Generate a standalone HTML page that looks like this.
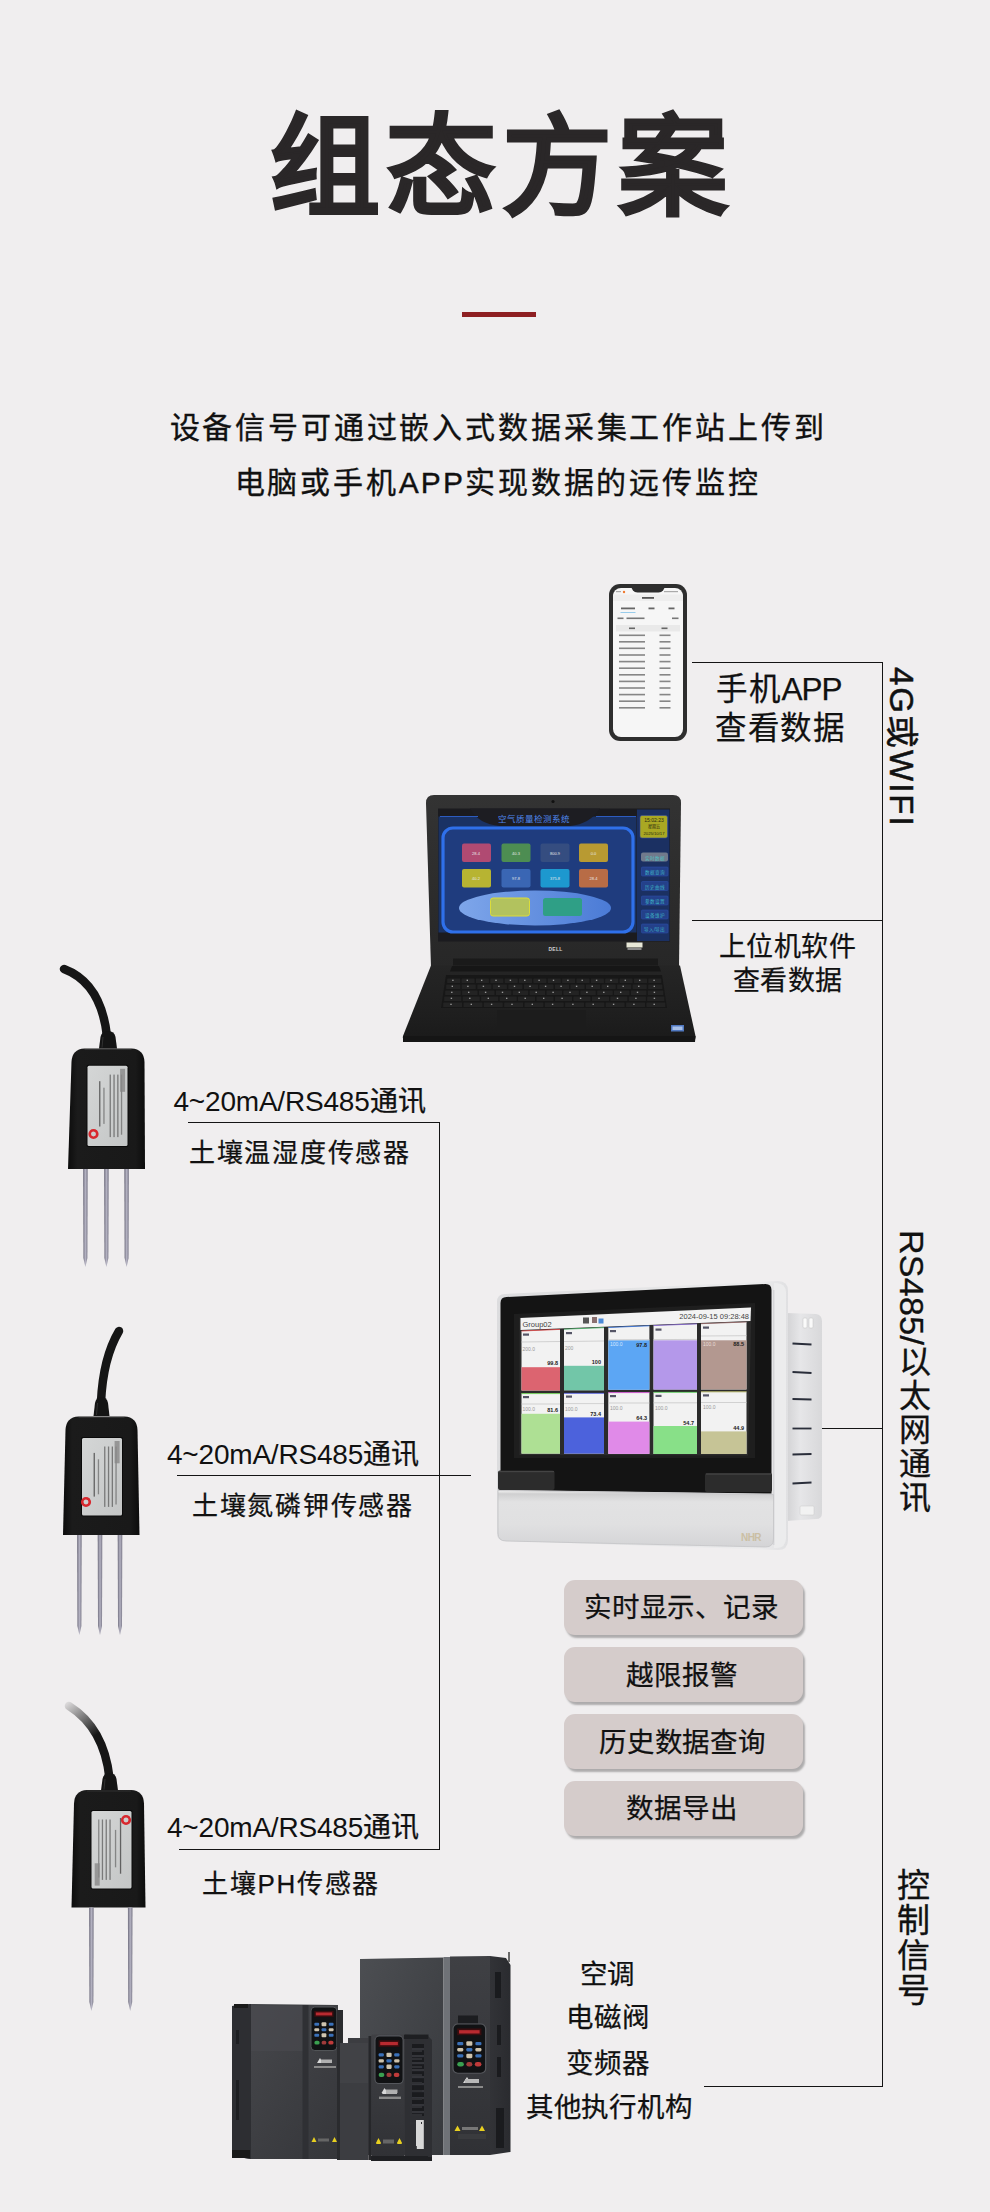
<!DOCTYPE html>
<html lang="zh-CN">
<head>
<meta charset="utf-8">
<style>
html,body{margin:0;padding:0;}
body{width:990px;height:2212px;position:relative;overflow:hidden;background:#f0eeef;font-family:"Liberation Sans",sans-serif;color:#111;}
.t{position:absolute;white-space:nowrap;line-height:1;-webkit-text-stroke:0.25px #111;}
.ln{position:absolute;background:#141414;}
.btn{position:absolute;left:564px;width:239px;height:55px;border-radius:11px;background:#d5cccb;box-shadow:2px 3px 2px rgba(0,0,0,0.28);}
.vt{position:absolute;white-space:nowrap;line-height:1;}
</style>
</head>
<body>
<!-- title -->
<div class="t" id="title" style="left:269.5px;top:112.5px;font-size:110px;font-weight:700;letter-spacing:6.3px;color:#2a2728;-webkit-text-stroke:1.6px #2a2728;">组态方案</div>
<div style="position:absolute;left:462px;top:312px;width:74px;height:5px;background:#8e1f22;"></div>
<div class="t" id="sub1" style="left:169.5px;top:412.5px;font-size:30px;letter-spacing:2.85px;-webkit-text-stroke:0.35px #111;">设备信号可通过嵌入式数据采集工作站上传到</div>
<div class="t" id="sub2" style="left:234.5px;top:468px;font-size:30px;letter-spacing:2.85px;-webkit-text-stroke:0.35px #111;">电脑或手机<span style="letter-spacing:2.1px">APP</span>实现数据的远传监控</div>

<svg id="art" width="990" height="2212" viewBox="0 0 990 2212" style="position:absolute;left:0;top:0;">
<defs>
<linearGradient id="lidG" x1="0" y1="0" x2="0" y2="1"><stop offset="0" stop-color="#333333"/><stop offset="1" stop-color="#272727"/></linearGradient>
<linearGradient id="baseG" x1="0" y1="0" x2="0" y2="1"><stop offset="0" stop-color="#252525"/><stop offset="0.6" stop-color="#1f1f1f"/><stop offset="1" stop-color="#1a1a1a"/></linearGradient>
<linearGradient id="ellG" x1="0" y1="0" x2="1" y2="0"><stop offset="0" stop-color="#7ea6ea"/><stop offset="1" stop-color="#4b7bd6"/></linearGradient>
</defs>
<g id="laptop">
<!-- lid -->
<path d="M431,967.5 L426,803 Q426,795 434,795 L673,795 Q681,795 681,803 L679,967.5 Z" fill="url(#lidG)"/>
<circle cx="553" cy="801.5" r="1.6" fill="#111"/>
<!-- screen -->
<rect x="438" y="808.5" width="232" height="133" fill="#1b1b1f"/>
<rect x="438.5" y="816.5" width="198" height="116" fill="#1a3264"/>
<!-- header dark tab -->
<path d="M470,808.5 L600,808.5 Q590,824 570,826 L500,826 Q478,824 470,808.5 Z" fill="#1d1d22"/>
<path d="M440,816.5 L478,816.5 M596,816.5 L636,816.5" stroke="#2d5cc0" stroke-width="1"/>
<text x="534" y="821.5" font-size="8.5" fill="#4f88ee" text-anchor="middle">空气质量检测系统</text>
<!-- inner panel -->
<rect x="443" y="828" width="190" height="104" rx="10" fill="#1f3c7e" stroke="#2f70ea" stroke-width="3.2"/>
<!-- tiles row 1 -->
<rect x="462" y="843.5" width="29" height="18.5" rx="2" fill="#b04a72"/>
<rect x="501.5" y="843.5" width="29" height="18.5" rx="2" fill="#4d8d52"/>
<rect x="540.5" y="843.5" width="29" height="18.5" rx="2" fill="#354d80"/>
<rect x="579" y="843.5" width="29" height="18.5" rx="2" fill="#b89a32"/>
<!-- row 2 -->
<rect x="462" y="869" width="29" height="18.5" rx="2" fill="#b7b432"/>
<rect x="501.5" y="869" width="29" height="18.5" rx="2" fill="#3a66b4"/>
<rect x="540.5" y="869" width="29" height="18.5" rx="2" fill="#1d98cf"/>
<rect x="579" y="869" width="29" height="18.5" rx="2" fill="#b86c46"/>
<g fill="#e8e8e8" font-size="4" text-anchor="middle">
<text x="476" y="854.5">28.4</text><text x="516" y="854.5">40.3</text><text x="555" y="854.5">800.9</text><text x="593.5" y="854.5">0.0</text>
<text x="476" y="880">40.2</text><text x="516" y="880">97.8</text><text x="555" y="880">375.8</text><text x="593.5" y="880">28.4</text>
</g>
<!-- ellipse -->
<ellipse cx="535" cy="908" rx="76" ry="17.5" fill="url(#ellG)"/>
<rect x="490.5" y="898" width="39" height="18" rx="2.5" fill="#b2c25e" stroke="#dcdc3a" stroke-width="1"/>
<rect x="543" y="898" width="39" height="18" rx="2.5" fill="#2f9f86"/>
<!-- sidebar -->
<rect x="637" y="809.5" width="32.5" height="131.5" fill="#1b3062"/>
<rect x="640" y="815.5" width="27.5" height="22.5" rx="2" fill="#a9a823" stroke="#3a4fa0" stroke-width="0.6"/>
<g font-size="4.2" fill="#2a2a10" text-anchor="middle"><text x="654" y="821.5" font-size="5">15:02:23</text><text x="654" y="828">星期五</text><text x="654" y="834.5">2025/10/17</text></g>
<rect x="641" y="852.5" width="27" height="9" rx="2" fill="#717a8c"/>
<g fill="#24418a" stroke="#2c4fa8" stroke-width="0.6">
<rect x="641.5" y="867" width="26.5" height="9" rx="1"/>
<rect x="641.5" y="881.5" width="26.5" height="9" rx="1"/>
<rect x="641.5" y="896" width="26.5" height="9" rx="1"/>
<rect x="641.5" y="910" width="26.5" height="9" rx="1"/>
<rect x="641.5" y="924" width="26.5" height="9" rx="1"/>
</g>
<g fill="#3fb4c4" font-size="4.6" text-anchor="middle"><text x="654.7" y="874">数据查询</text><text x="654.7" y="888.5">历史曲线</text><text x="654.7" y="903">参数设置</text><text x="654.7" y="917">设备维护</text><text x="654.7" y="931">导入/导出</text><text x="654.7" y="859.5" fill="#50c0c0">实时数据</text></g>
<!-- bottom bezel -->
<text x="555.5" y="950.5" font-size="5" fill="#cfcfcf" text-anchor="middle" font-weight="700" letter-spacing="0.2">DELL</text>
<rect x="626.5" y="942.5" width="16" height="5" fill="#e8e8d8"/>
<rect x="627.5" y="948" width="14" height="2" fill="#8a8a8a"/>
<!-- hinge -->
<rect x="453" y="958.5" width="205" height="8" fill="#1a1a1a"/>

<!-- base -->
<path d="M431,965.5 L680,965.5 L695.5,1036 Q696,1042 690,1042 L408,1042 Q402,1042 403,1036 Z" fill="url(#baseG)"/>
<path d="M403,1036 L695.5,1036 L695,1042 L403,1042 Z" fill="#151515"/>
<path d="M452,966 L659,966 L661,971.5 L450,971.5 Z" fill="#161616"/>
<!-- keyboard -->
<path d="M446,975 L662,975 L667,1008 L441,1008 Z" fill="#171717"/>
<rect x="447.2" y="978.5" width="13.0" height="4.6" rx="0.6" fill="#232323"/>
<rect x="452.2" y="979.7" width="1.4" height="1.2" fill="#bdbdbd" opacity="0.85"/>
<rect x="461.6" y="978.5" width="13.0" height="4.6" rx="0.6" fill="#232323"/>
<rect x="466.6" y="979.7" width="1.4" height="1.2" fill="#bdbdbd" opacity="0.85"/>
<rect x="475.9" y="978.5" width="13.0" height="4.6" rx="0.6" fill="#232323"/>
<rect x="481.0" y="979.7" width="1.4" height="1.2" fill="#bdbdbd" opacity="0.85"/>
<rect x="490.3" y="978.5" width="13.0" height="4.6" rx="0.6" fill="#232323"/>
<rect x="495.3" y="979.7" width="1.4" height="1.2" fill="#bdbdbd" opacity="0.85"/>
<rect x="504.7" y="978.5" width="13.0" height="4.6" rx="0.6" fill="#232323"/>
<rect x="509.7" y="979.7" width="1.4" height="1.2" fill="#bdbdbd" opacity="0.85"/>
<rect x="519.0" y="978.5" width="13.0" height="4.6" rx="0.6" fill="#232323"/>
<rect x="524.1" y="979.7" width="1.4" height="1.2" fill="#bdbdbd" opacity="0.85"/>
<rect x="533.4" y="978.5" width="13.0" height="4.6" rx="0.6" fill="#232323"/>
<rect x="538.4" y="979.7" width="1.4" height="1.2" fill="#bdbdbd" opacity="0.85"/>
<rect x="547.8" y="978.5" width="13.0" height="4.6" rx="0.6" fill="#232323"/>
<rect x="552.8" y="979.7" width="1.4" height="1.2" fill="#bdbdbd" opacity="0.85"/>
<rect x="562.1" y="978.5" width="13.0" height="4.6" rx="0.6" fill="#232323"/>
<rect x="567.2" y="979.7" width="1.4" height="1.2" fill="#bdbdbd" opacity="0.85"/>
<rect x="576.5" y="978.5" width="13.0" height="4.6" rx="0.6" fill="#232323"/>
<rect x="581.5" y="979.7" width="1.4" height="1.2" fill="#bdbdbd" opacity="0.85"/>
<rect x="590.9" y="978.5" width="13.0" height="4.6" rx="0.6" fill="#232323"/>
<rect x="595.9" y="979.7" width="1.4" height="1.2" fill="#bdbdbd" opacity="0.85"/>
<rect x="605.2" y="978.5" width="13.0" height="4.6" rx="0.6" fill="#232323"/>
<rect x="610.3" y="979.7" width="1.4" height="1.2" fill="#bdbdbd" opacity="0.85"/>
<rect x="619.6" y="978.5" width="13.0" height="4.6" rx="0.6" fill="#232323"/>
<rect x="624.6" y="979.7" width="1.4" height="1.2" fill="#bdbdbd" opacity="0.85"/>
<rect x="634.0" y="978.5" width="13.0" height="4.6" rx="0.6" fill="#232323"/>
<rect x="639.0" y="979.7" width="1.4" height="1.2" fill="#bdbdbd" opacity="0.85"/>
<rect x="648.3" y="978.5" width="13.0" height="4.6" rx="0.6" fill="#232323"/>
<rect x="653.4" y="979.7" width="1.4" height="1.2" fill="#bdbdbd" opacity="0.85"/>
<rect x="446.2" y="984.5" width="14.1" height="4.6" rx="0.6" fill="#232323"/>
<rect x="451.6" y="985.7" width="1.4" height="1.2" fill="#bdbdbd" opacity="0.85"/>
<rect x="461.7" y="984.5" width="14.1" height="4.6" rx="0.6" fill="#232323"/>
<rect x="467.2" y="985.7" width="1.4" height="1.2" fill="#bdbdbd" opacity="0.85"/>
<rect x="477.3" y="984.5" width="14.1" height="4.6" rx="0.6" fill="#232323"/>
<rect x="482.7" y="985.7" width="1.4" height="1.2" fill="#bdbdbd" opacity="0.85"/>
<rect x="492.8" y="984.5" width="14.1" height="4.6" rx="0.6" fill="#232323"/>
<rect x="498.2" y="985.7" width="1.4" height="1.2" fill="#bdbdbd" opacity="0.85"/>
<rect x="508.3" y="984.5" width="14.1" height="4.6" rx="0.6" fill="#232323"/>
<rect x="513.8" y="985.7" width="1.4" height="1.2" fill="#bdbdbd" opacity="0.85"/>
<rect x="523.9" y="984.5" width="14.1" height="4.6" rx="0.6" fill="#232323"/>
<rect x="529.3" y="985.7" width="1.4" height="1.2" fill="#bdbdbd" opacity="0.85"/>
<rect x="539.4" y="984.5" width="14.1" height="4.6" rx="0.6" fill="#232323"/>
<rect x="544.9" y="985.7" width="1.4" height="1.2" fill="#bdbdbd" opacity="0.85"/>
<rect x="555.0" y="984.5" width="14.1" height="4.6" rx="0.6" fill="#232323"/>
<rect x="560.4" y="985.7" width="1.4" height="1.2" fill="#bdbdbd" opacity="0.85"/>
<rect x="570.5" y="984.5" width="14.1" height="4.6" rx="0.6" fill="#232323"/>
<rect x="575.9" y="985.7" width="1.4" height="1.2" fill="#bdbdbd" opacity="0.85"/>
<rect x="586.0" y="984.5" width="14.1" height="4.6" rx="0.6" fill="#232323"/>
<rect x="591.5" y="985.7" width="1.4" height="1.2" fill="#bdbdbd" opacity="0.85"/>
<rect x="601.6" y="984.5" width="14.1" height="4.6" rx="0.6" fill="#232323"/>
<rect x="607.0" y="985.7" width="1.4" height="1.2" fill="#bdbdbd" opacity="0.85"/>
<rect x="617.1" y="984.5" width="14.1" height="4.6" rx="0.6" fill="#232323"/>
<rect x="622.5" y="985.7" width="1.4" height="1.2" fill="#bdbdbd" opacity="0.85"/>
<rect x="632.6" y="984.5" width="14.1" height="4.6" rx="0.6" fill="#232323"/>
<rect x="638.1" y="985.7" width="1.4" height="1.2" fill="#bdbdbd" opacity="0.85"/>
<rect x="648.2" y="984.5" width="14.1" height="4.6" rx="0.6" fill="#232323"/>
<rect x="653.6" y="985.7" width="1.4" height="1.2" fill="#bdbdbd" opacity="0.85"/>
<rect x="445.2" y="990.5" width="15.5" height="4.6" rx="0.6" fill="#232323"/>
<rect x="451.1" y="991.7" width="1.4" height="1.2" fill="#bdbdbd" opacity="0.85"/>
<rect x="462.1" y="990.5" width="15.5" height="4.6" rx="0.6" fill="#232323"/>
<rect x="468.0" y="991.7" width="1.4" height="1.2" fill="#bdbdbd" opacity="0.85"/>
<rect x="479.0" y="990.5" width="15.5" height="4.6" rx="0.6" fill="#232323"/>
<rect x="484.9" y="991.7" width="1.4" height="1.2" fill="#bdbdbd" opacity="0.85"/>
<rect x="495.9" y="990.5" width="15.5" height="4.6" rx="0.6" fill="#232323"/>
<rect x="501.8" y="991.7" width="1.4" height="1.2" fill="#bdbdbd" opacity="0.85"/>
<rect x="512.7" y="990.5" width="15.5" height="4.6" rx="0.6" fill="#232323"/>
<rect x="518.6" y="991.7" width="1.4" height="1.2" fill="#bdbdbd" opacity="0.85"/>
<rect x="529.6" y="990.5" width="15.5" height="4.6" rx="0.6" fill="#232323"/>
<rect x="535.5" y="991.7" width="1.4" height="1.2" fill="#bdbdbd" opacity="0.85"/>
<rect x="546.5" y="990.5" width="15.5" height="4.6" rx="0.6" fill="#232323"/>
<rect x="552.4" y="991.7" width="1.4" height="1.2" fill="#bdbdbd" opacity="0.85"/>
<rect x="563.4" y="990.5" width="15.5" height="4.6" rx="0.6" fill="#232323"/>
<rect x="569.3" y="991.7" width="1.4" height="1.2" fill="#bdbdbd" opacity="0.85"/>
<rect x="580.3" y="990.5" width="15.5" height="4.6" rx="0.6" fill="#232323"/>
<rect x="586.2" y="991.7" width="1.4" height="1.2" fill="#bdbdbd" opacity="0.85"/>
<rect x="597.2" y="990.5" width="15.5" height="4.6" rx="0.6" fill="#232323"/>
<rect x="603.1" y="991.7" width="1.4" height="1.2" fill="#bdbdbd" opacity="0.85"/>
<rect x="614.0" y="990.5" width="15.5" height="4.6" rx="0.6" fill="#232323"/>
<rect x="620.0" y="991.7" width="1.4" height="1.2" fill="#bdbdbd" opacity="0.85"/>
<rect x="630.9" y="990.5" width="15.5" height="4.6" rx="0.6" fill="#232323"/>
<rect x="636.8" y="991.7" width="1.4" height="1.2" fill="#bdbdbd" opacity="0.85"/>
<rect x="647.8" y="990.5" width="15.5" height="4.6" rx="0.6" fill="#232323"/>
<rect x="653.7" y="991.7" width="1.4" height="1.2" fill="#bdbdbd" opacity="0.85"/>
<rect x="444.2" y="996.5" width="17.1" height="4.6" rx="0.6" fill="#232323"/>
<rect x="450.7" y="997.7" width="1.4" height="1.2" fill="#bdbdbd" opacity="0.85"/>
<rect x="462.7" y="996.5" width="17.1" height="4.6" rx="0.6" fill="#232323"/>
<rect x="469.1" y="997.7" width="1.4" height="1.2" fill="#bdbdbd" opacity="0.85"/>
<rect x="481.1" y="996.5" width="17.1" height="4.6" rx="0.6" fill="#232323"/>
<rect x="487.6" y="997.7" width="1.4" height="1.2" fill="#bdbdbd" opacity="0.85"/>
<rect x="499.6" y="996.5" width="17.1" height="4.6" rx="0.6" fill="#232323"/>
<rect x="506.0" y="997.7" width="1.4" height="1.2" fill="#bdbdbd" opacity="0.85"/>
<rect x="518.0" y="996.5" width="17.1" height="4.6" rx="0.6" fill="#232323"/>
<rect x="524.5" y="997.7" width="1.4" height="1.2" fill="#bdbdbd" opacity="0.85"/>
<rect x="536.5" y="996.5" width="17.1" height="4.6" rx="0.6" fill="#232323"/>
<rect x="543.0" y="997.7" width="1.4" height="1.2" fill="#bdbdbd" opacity="0.85"/>
<rect x="555.0" y="996.5" width="17.1" height="4.6" rx="0.6" fill="#232323"/>
<rect x="561.4" y="997.7" width="1.4" height="1.2" fill="#bdbdbd" opacity="0.85"/>
<rect x="573.4" y="996.5" width="17.1" height="4.6" rx="0.6" fill="#232323"/>
<rect x="579.9" y="997.7" width="1.4" height="1.2" fill="#bdbdbd" opacity="0.85"/>
<rect x="591.9" y="996.5" width="17.1" height="4.6" rx="0.6" fill="#232323"/>
<rect x="598.3" y="997.7" width="1.4" height="1.2" fill="#bdbdbd" opacity="0.85"/>
<rect x="610.3" y="996.5" width="17.1" height="4.6" rx="0.6" fill="#232323"/>
<rect x="616.8" y="997.7" width="1.4" height="1.2" fill="#bdbdbd" opacity="0.85"/>
<rect x="628.8" y="996.5" width="17.1" height="4.6" rx="0.6" fill="#232323"/>
<rect x="635.2" y="997.7" width="1.4" height="1.2" fill="#bdbdbd" opacity="0.85"/>
<rect x="647.2" y="996.5" width="17.1" height="4.6" rx="0.6" fill="#232323"/>
<rect x="653.7" y="997.7" width="1.4" height="1.2" fill="#bdbdbd" opacity="0.85"/>
<rect x="443.2" y="1002.5" width="18.9" height="4.6" rx="0.6" fill="#232323"/>
<rect x="450.3" y="1003.7" width="1.4" height="1.2" fill="#bdbdbd" opacity="0.85"/>
<rect x="463.5" y="1002.5" width="18.9" height="4.6" rx="0.6" fill="#232323"/>
<rect x="470.6" y="1003.7" width="1.4" height="1.2" fill="#bdbdbd" opacity="0.85"/>
<rect x="483.8" y="1002.5" width="18.9" height="4.6" rx="0.6" fill="#232323"/>
<rect x="490.9" y="1003.7" width="1.4" height="1.2" fill="#bdbdbd" opacity="0.85"/>
<rect x="504.2" y="1002.5" width="18.9" height="4.6" rx="0.6" fill="#232323"/>
<rect x="511.3" y="1003.7" width="1.4" height="1.2" fill="#bdbdbd" opacity="0.85"/>
<rect x="524.5" y="1002.5" width="18.9" height="4.6" rx="0.6" fill="#232323"/>
<rect x="531.6" y="1003.7" width="1.4" height="1.2" fill="#bdbdbd" opacity="0.85"/>
<rect x="544.8" y="1002.5" width="18.9" height="4.6" rx="0.6" fill="#232323"/>
<rect x="551.9" y="1003.7" width="1.4" height="1.2" fill="#bdbdbd" opacity="0.85"/>
<rect x="565.1" y="1002.5" width="18.9" height="4.6" rx="0.6" fill="#232323"/>
<rect x="572.2" y="1003.7" width="1.4" height="1.2" fill="#bdbdbd" opacity="0.85"/>
<rect x="585.4" y="1002.5" width="18.9" height="4.6" rx="0.6" fill="#232323"/>
<rect x="592.5" y="1003.7" width="1.4" height="1.2" fill="#bdbdbd" opacity="0.85"/>
<rect x="605.7" y="1002.5" width="18.9" height="4.6" rx="0.6" fill="#232323"/>
<rect x="612.9" y="1003.7" width="1.4" height="1.2" fill="#bdbdbd" opacity="0.85"/>
<rect x="626.1" y="1002.5" width="18.9" height="4.6" rx="0.6" fill="#232323"/>
<rect x="633.2" y="1003.7" width="1.4" height="1.2" fill="#bdbdbd" opacity="0.85"/>
<rect x="646.4" y="1002.5" width="18.9" height="4.6" rx="0.6" fill="#232323"/>
<rect x="653.5" y="1003.7" width="1.4" height="1.2" fill="#bdbdbd" opacity="0.85"/>
<!-- touchpad -->
<rect x="497" y="1010" width="89" height="23" fill="#1c1c1c"/>
<rect x="671" y="1025" width="13" height="6.5" fill="#5078c0"/><rect x="672.5" y="1026.5" width="10" height="3.5" fill="#a8c0e8"/>
</g>
<g id="phone">
<rect x="609" y="584" width="78" height="157" rx="11" fill="#2e2e2e"/>
<rect x="613" y="588" width="70" height="149" rx="8" fill="#f6f6f6"/>
<path d="M631,587 L665,587 L663,590.5 Q661.5,592.5 658.5,592.5 L637.5,592.5 Q634.5,592.5 633,590.5 Z" fill="#2e2e2e"/>
<circle cx="624" cy="592" r="1.2" fill="#f07a30"/>
<rect x="616" y="591" width="5" height="1.2" fill="#aaa"/>
<rect x="664" y="591" width="14" height="1.2" fill="#aaa"/>
<rect x="613" y="594.5" width="70" height="6.5" fill="#eeeeee"/>
<rect x="642" y="597" width="12" height="1.8" fill="#555"/>
<g fill="#666"><rect x="621" y="607.5" width="14" height="1.8"/><rect x="648.5" y="607.5" width="6" height="1.8"/><rect x="668.5" y="607.5" width="6" height="1.8"/></g>
<rect x="620.5" y="612" width="15" height="0.9" fill="#8ec8ea"/>
<g fill="#777"><rect x="617.5" y="617.5" width="6" height="1.6"/><rect x="626.5" y="617.5" width="18" height="1.6"/><rect x="672" y="617.5" width="6.5" height="1.6"/></g>
<rect x="616" y="625" width="64" height="6.5" fill="#e9e9e9"/>
<g fill="#666"><rect x="629" y="627.5" width="6" height="1.6"/><rect x="661.5" y="627.5" width="6" height="1.6"/></g>
<g fill="#7a7a7a" opacity="0.9">
<rect x="619" y="634.5" width="26" height="1.6"/><rect x="659.5" y="634.5" width="11" height="1.6"/>
<rect x="619" y="641" width="26" height="1.6"/><rect x="659.5" y="641" width="11" height="1.6"/>
<rect x="619" y="647.5" width="26" height="1.6"/><rect x="659.5" y="647.5" width="11" height="1.6"/>
<rect x="619" y="654.2" width="26" height="1.6"/><rect x="659.5" y="654.2" width="11" height="1.6"/>
<rect x="619" y="660.8" width="26" height="1.6"/><rect x="659.5" y="660.8" width="11" height="1.6"/>
<rect x="619" y="667.4" width="26" height="1.6"/><rect x="659.5" y="667.4" width="11" height="1.6"/>
<rect x="619" y="674" width="26" height="1.6"/><rect x="659.5" y="674" width="11" height="1.6"/>
<rect x="619" y="680.6" width="26" height="1.6"/><rect x="659.5" y="680.6" width="11" height="1.6"/>
<rect x="619" y="687.2" width="26" height="1.6"/><rect x="659.5" y="687.2" width="11" height="1.6"/>
<rect x="619" y="693.8" width="26" height="1.6"/><rect x="659.5" y="693.8" width="11" height="1.6"/>
<rect x="619" y="700.4" width="26" height="1.6"/><rect x="659.5" y="700.4" width="11" height="1.6"/>
<rect x="619" y="707" width="26" height="1.6"/><rect x="659.5" y="707" width="11" height="1.6"/>
</g>
</g>
<defs>
<linearGradient id="bodyG" x1="0" y1="0" x2="1" y2="0"><stop offset="0" stop-color="#0c0c0c"/><stop offset="0.12" stop-color="#1b1b1b"/><stop offset="0.88" stop-color="#191919"/><stop offset="1" stop-color="#0c0c0c"/></linearGradient>
<linearGradient id="probeG" x1="0" y1="0" x2="1" y2="0"><stop offset="0" stop-color="#6e6c7c"/><stop offset="0.5" stop-color="#b4b2c2"/><stop offset="1" stop-color="#7a7888"/></linearGradient>
<linearGradient id="labelG" x1="0" y1="0" x2="1" y2="1"><stop offset="0" stop-color="#d4d6d6"/><stop offset="1" stop-color="#c4c6c6"/></linearGradient>
<linearGradient id="cableFade" gradientUnits="userSpaceOnUse" x1="66" y1="1704" x2="92" y2="1738"><stop offset="0" stop-color="#161616" stop-opacity="0.1"/><stop offset="1" stop-color="#161616" stop-opacity="1"/></linearGradient>
</defs>
<g id="sensors">
<path d="M64,969 Q101,983 107,1036" stroke="#161616" stroke-width="8.5" fill="none" stroke-linecap="round"/>
<path d="M99,1048.5 L100.5,1037 Q101.5,1031 108.0,1031 Q114.5,1031 115.5,1037 L117,1048.5 Z" fill="#141414"/>
<path d="M102,1047.5 L103,1037" stroke="#444" stroke-width="1" opacity="0.6"/>
<path d="M68,1169 L71.5,1062 Q72.0,1049 84.5,1048.5 L131.5,1048.5 Q144.0,1049 144.5,1062 L145,1169 Z" fill="url(#bodyG)"/>
<path d="M84.5,1049.5 L131.5,1049.5" stroke="#3a3a3a" stroke-width="1" opacity="0.7"/>
<rect x="86.5" y="1064.7" width="42.0" height="82.29999999999995" rx="2" fill="#0a0a0a"/>
<rect x="87.5" y="1065.7" width="40.0" height="80.29999999999995" rx="1.5" fill="url(#labelG)"/>
<rect x="99.1" y="1081.2" width="1.3" height="45.3" fill="#555" opacity="0.9"/>
<rect x="103.3" y="1087.7" width="1.3" height="36.2" fill="#555" opacity="0.6"/>
<rect x="109.6" y="1074.6" width="1.3" height="62.5" fill="#555" opacity="0.7"/>
<rect x="113.4" y="1074.6" width="1.3" height="62.5" fill="#555" opacity="0.7"/>
<rect x="117.2" y="1074.6" width="1.3" height="62.5" fill="#555" opacity="0.7"/>
<rect x="120.9" y="1074.6" width="1.3" height="60.1" fill="#555" opacity="0.6"/>
<rect x="120.1" y="1068.8" width="5" height="23.0" fill="#888" opacity="0.8"/>
<circle cx="93.5" cy="1134" r="3.8" fill="none" stroke="#d8282e" stroke-width="2.6"/>
<circle cx="96.3" cy="1131.2" r="1" fill="#d8282e"/>
<path d="M83.10000000000001,1169 L87.7,1169 L87.4,1258 L85.4,1267 L83.4,1258 Z" fill="url(#probeG)"/>
<path d="M104.10000000000001,1169 L108.7,1169 L108.4,1258 L106.4,1267 L104.4,1258 Z" fill="url(#probeG)"/>
<path d="M124.3,1169 L128.9,1169 L128.6,1258 L126.6,1267 L124.6,1258 Z" fill="url(#probeG)"/>
<path d="M119,1331 Q103,1358 101,1402" stroke="#161616" stroke-width="8.5" fill="none" stroke-linecap="round"/>
<path d="M93.5,1416 L95.0,1403 Q96.0,1397 101.5,1397 Q107.0,1397 108.0,1403 L109.5,1416 Z" fill="#141414"/>
<path d="M96.5,1415 L97.5,1403" stroke="#444" stroke-width="1" opacity="0.6"/>
<path d="M63,1535 L65.5,1430 Q66.0,1417 78.5,1416.5 L124.5,1416.5 Q137.0,1417 137.5,1430 L139.5,1535 Z" fill="url(#bodyG)"/>
<path d="M78.5,1417.5 L124.5,1417.5" stroke="#3a3a3a" stroke-width="1" opacity="0.7"/>
<rect x="81" y="1437" width="42" height="79.5" rx="2" fill="#0a0a0a"/>
<rect x="82" y="1438" width="40" height="77.5" rx="1.5" fill="url(#labelG)"/>
<rect x="93.6" y="1452.9" width="1.3" height="43.7" fill="#555" opacity="0.9"/>
<rect x="97.8" y="1459.3" width="1.3" height="35.0" fill="#555" opacity="0.6"/>
<rect x="104.1" y="1446.5" width="1.3" height="60.4" fill="#555" opacity="0.7"/>
<rect x="107.9" y="1446.5" width="1.3" height="60.4" fill="#555" opacity="0.7"/>
<rect x="111.7" y="1446.5" width="1.3" height="60.4" fill="#555" opacity="0.7"/>
<rect x="115.4" y="1446.5" width="1.3" height="58.0" fill="#555" opacity="0.6"/>
<rect x="114.6" y="1441.0" width="5" height="22.3" fill="#888" opacity="0.8"/>
<circle cx="86" cy="1502" r="3.8" fill="none" stroke="#d8282e" stroke-width="2.6"/>
<circle cx="88.8" cy="1499.2" r="1" fill="#d8282e"/>
<path d="M77.10000000000001,1535 L81.7,1535 L81.4,1626 L79.4,1635 L77.4,1626 Z" fill="url(#probeG)"/>
<path d="M97.7,1535 L102.3,1535 L102,1626 L100,1635 L98,1626 Z" fill="url(#probeG)"/>
<path d="M117.7,1535 L122.3,1535 L122,1626 L120,1635 L118,1626 Z" fill="url(#probeG)"/>
<path d="M69,1706 Q104,1728 109.5,1778" stroke="url(#cableFade)" stroke-width="8.5" fill="none" stroke-linecap="round"/>
<path d="M101,1790.5 L102.5,1779 Q103.5,1773 109.5,1773 Q115.5,1773 116.5,1779 L118,1790.5 Z" fill="#141414"/>
<path d="M104,1789.5 L105,1779" stroke="#444" stroke-width="1" opacity="0.6"/>
<path d="M71.5,1907.5 L74,1803.5 Q74.5,1790.5 87,1790.0 L131,1790.0 Q143.5,1790.5 144,1803.5 L145.5,1907.5 Z" fill="url(#bodyG)"/>
<path d="M87,1791.0 L131,1791.0" stroke="#3a3a3a" stroke-width="1" opacity="0.7"/>
<rect x="90.5" y="1810" width="42.0" height="79.5" rx="2" fill="#0a0a0a"/>
<rect x="91.5" y="1811" width="40.0" height="77.5" rx="1.5" fill="url(#labelG)"/>
<rect x="119.9" y="1818.0" width="1.3" height="55.7" fill="#555" opacity="0.9"/>
<rect x="114.9" y="1829.9" width="1.3" height="37.4" fill="#555" opacity="0.6"/>
<rect x="109.4" y="1819.5" width="1.3" height="60.4" fill="#555" opacity="0.7"/>
<rect x="105.6" y="1819.5" width="1.3" height="60.4" fill="#555" opacity="0.7"/>
<rect x="101.8" y="1819.5" width="1.3" height="60.4" fill="#555" opacity="0.7"/>
<rect x="98.1" y="1819.5" width="1.3" height="58.0" fill="#555" opacity="0.6"/>
<rect x="94.7" y="1863.3" width="5" height="22.3" fill="#888" opacity="0.8"/>
<circle cx="126" cy="1820" r="3.8" fill="none" stroke="#d8282e" stroke-width="2.6"/>
<circle cx="128.8" cy="1817.2" r="1" fill="#d8282e"/>
<path d="M89.10000000000001,1907.5 L93.7,1907.5 L93.4,2002 L91.4,2011 L89.4,2002 Z" fill="url(#probeG)"/>
<path d="M127.89999999999999,1907.5 L132.5,1907.5 L132.2,2002 L130.2,2011 L128.2,2002 Z" fill="url(#probeG)"/>
</g>
<defs>
<linearGradient id="silverG" x1="0" y1="0" x2="0" y2="1"><stop offset="0" stop-color="#f4f4f4"/><stop offset="0.06" stop-color="#cfcfd0"/><stop offset="0.2" stop-color="#e2e2e3"/><stop offset="0.6" stop-color="#e0e0e1"/><stop offset="1" stop-color="#d4d4d6"/></linearGradient>
<linearGradient id="frameG" x1="0" y1="0" x2="1" y2="0"><stop offset="0" stop-color="#dcdcde"/><stop offset="0.9" stop-color="#ececed"/><stop offset="1" stop-color="#e0e0e2"/></linearGradient>
<linearGradient id="sideG" x1="0" y1="0" x2="1" y2="0"><stop offset="0" stop-color="#d2d2d4"/><stop offset="0.4" stop-color="#e6e6e8"/><stop offset="1" stop-color="#d8d8da"/></linearGradient>
</defs>
<g id="recorder">
<!-- back box -->
<path d="M786,1313 L816,1314 Q822,1315 822,1321 L822,1513 Q822,1519 816,1519 L786,1521 Z" fill="url(#sideG)"/>
<rect x="803" y="1318" width="4" height="10" rx="1" fill="#fafafa" stroke="#c0c0c0" stroke-width="0.5"/>
<rect x="809" y="1318" width="4" height="10" rx="1" fill="#fafafa" stroke="#c0c0c0" stroke-width="0.5"/>
<rect x="800" y="1506" width="14" height="9" rx="1" fill="#f2f2f2" stroke="#c8c8c8" stroke-width="0.5"/>
<g stroke="#2a2e3a" stroke-width="1.8">
<path d="M792.5,1343.5 L811.5,1344.5"/><path d="M792.5,1372 L811.5,1373"/><path d="M792.5,1399 L811.5,1399.5"/><path d="M792.5,1428.5 L811.5,1428.5"/><path d="M792.5,1454.5 L811.5,1454"/><path d="M792.5,1483.5 L811.5,1482.5"/>
</g>
<!-- silver frame -->
<path d="M505,1294 L778,1281 Q788,1281 788,1291 L788,1540 Q788,1550 778,1550 L505,1541 Q497,1541 497,1533 L497,1302 Q497,1294 505,1294 Z" fill="url(#frameG)"/>
<path d="M774,1283 L776,1283 Q786,1283 786,1293 L786,1538 Q786,1548 776,1548 L774,1548 Z" fill="#ececed"/><path d="M773.8,1290 L773.8,1545" stroke="#c8c8ca" stroke-width="0.8"/>
<!-- black bezel -->
<path d="M506.5,1297 L765.5,1284 Q771.5,1284 771.5,1290 L771.5,1493.5 L500.5,1490 L500.5,1303 Q500.5,1297 506.5,1297 Z" fill="#141414"/>
<path d="M514,1314 L755,1303 L755,1458 L514,1458 Z" fill="#1e1e1e"/>
<!-- bottom bar pads -->
<rect x="498" y="1470.5" width="56.5" height="19.5" rx="2" fill="#2c2c2c"/><rect x="499" y="1471" width="55" height="1.2" fill="#444"/>
<rect x="705" y="1473" width="67" height="19" rx="2" fill="#2c2c2c"/><rect x="706" y="1473.5" width="65" height="1.2" fill="#444"/>
<!-- silver bottom -->
<path d="M498,1490.5 L773.5,1494.5 L773.5,1539 Q773.5,1547 765.5,1547 L506,1541 Q498,1541 498,1533 Z" fill="url(#silverG)" stroke="#c4c4c6" stroke-width="0.8"/>
<text x="751" y="1540.5" font-size="10" fill="#cbbfa4" text-anchor="middle" font-weight="700" letter-spacing="-0.6">NHR</text>
<!-- screen -->
<path d="M519.5,1317.5 L751.5,1307 L748,1455.5 L519.5,1455 Z" fill="#2b2b2b"/>
<path d="M520.5,1318 L751,1307.5 L750.5,1321 L520.5,1330 Z" fill="#f3f3f3"/>
<text x="522.5" y="1327.3" font-size="7.5" fill="#444">Group02</text>
<text x="749" y="1318.5" font-size="7.5" fill="#444" text-anchor="end">2024-09-15 09:28:48</text>
<rect x="583" y="1317.5" width="6" height="6" fill="#555"/><rect x="592" y="1317" width="5" height="6" fill="#8a7070"/><rect x="598.5" y="1318.5" width="5" height="5" fill="#4a8ad8"/>
<!-- cells row 1 -->
<g>
<path d="M521.5,1331 L560,1329.4 L560,1390.5 L521.5,1390.5 Z" fill="#f2f2f2"/>
<rect x="521.5" y="1367.2" width="38.5" height="23.3" fill="#dc6470"/>
<path d="M564,1329.2 L604,1327.6 L604,1390.3 L564,1390.3 Z" fill="#f2f2f2"/>
<rect x="564" y="1365.8" width="40" height="24.5" fill="#72c6a8"/>
<path d="M608.3,1327.5 L649.4,1325.8 L649.4,1389.8 L608.3,1389.8 Z" fill="#f2f2f2"/>
<rect x="608.3" y="1340.3" width="41.1" height="49.5" fill="#5ca6f4"/>
<path d="M653.5,1325.6 L697,1323.9 L697,1389.6 L653.5,1389.6 Z" fill="#f2f2f2"/>
<rect x="653.5" y="1340.3" width="43.5" height="49.3" fill="#b498ea"/>
<path d="M701,1323.7 L746.5,1322 L746.5,1389.4 L701,1389.4 Z" fill="#f2f2f2"/>
<rect x="701" y="1340.3" width="45.5" height="49.1" fill="#b39890"/>
</g>
<g>
<rect x="521.5" y="1393.3" width="38.5" height="60.3" fill="#f2f2f2"/>
<rect x="521.5" y="1413.8" width="38.5" height="39.8" fill="#aee094"/>
<rect x="564" y="1393" width="40" height="60.6" fill="#f2f2f2"/>
<rect x="564" y="1417.4" width="40" height="36.2" fill="#4c62dc"/>
<rect x="608.3" y="1392.3" width="41.1" height="61.6" fill="#f2f2f2"/>
<rect x="608.3" y="1421.6" width="41.1" height="32.3" fill="#e08ae8"/>
<rect x="653.5" y="1392" width="43.5" height="62" fill="#f2f2f2"/>
<rect x="653.5" y="1426" width="43.5" height="28" fill="#88e088"/>
<rect x="701" y="1391.5" width="45.5" height="62.5" fill="#f2f2f2"/>
<rect x="701" y="1431.4" width="45.5" height="22.6" fill="#c6c496"/>
</g>
<!-- header lines and labels -->
<g stroke="#c8c8c8" stroke-width="0.8">
<path d="M521.5,1342 L560,1341.5"/><path d="M564,1341.5 L604,1341"/><path d="M608.3,1339.8 L649.4,1339.6"/><path d="M653.5,1339.6 L697,1339.4"/><path d="M701,1336 L746.5,1335.7"/>
<path d="M521.5,1404 L560,1404"/><path d="M564,1403.6 L604,1403.6"/><path d="M608.3,1403 L649.4,1403"/><path d="M653.5,1402.8 L697,1402.8"/><path d="M701,1402.5 L746.5,1402.5"/>
</g>
<g stroke-width="0.8"><path d="M521.5,1331 L560,1329.4" stroke="#e04040"/><path d="M564,1329.2 L604,1327.6" stroke="#40b060"/><path d="M608.3,1327.5 L649.4,1325.8" stroke="#3070e0"/><path d="M653.5,1325.6 L697,1323.9" stroke="#8060d0"/><path d="M701,1323.7 L746.5,1322" stroke="#906060"/>
<path d="M521.5,1393.6 L560,1393.6" stroke="#60d040"/><path d="M564,1393.3 L604,1393.3" stroke="#3040d0"/><path d="M608.3,1392.6 L649.4,1392.6" stroke="#d040d0"/><path d="M653.5,1392.3 L697,1392.3" stroke="#40c040"/><path d="M701,1391.8 L746.5,1391.8" stroke="#a0a040"/></g>
<g fill="#556"><rect x="523" y="1333.5" width="6" height="2.2"/><rect x="566" y="1332" width="6" height="2.2"/><rect x="610" y="1330" width="6" height="2.2"/><rect x="655.5" y="1328.5" width="6" height="2.2"/><rect x="703" y="1326.5" width="6" height="2.2"/>
<rect x="523" y="1396" width="6" height="2.2"/><rect x="566" y="1395.5" width="6" height="2.2"/><rect x="610" y="1395" width="6" height="2.2"/><rect x="655.5" y="1394.8" width="6" height="2.2"/><rect x="703" y="1394.3" width="6" height="2.2"/></g>
<g fill="#222" font-size="5.5" text-anchor="end" font-weight="700">
<text x="558" y="1365">99.8</text><text x="601" y="1363.5">100</text><text x="647" y="1347">97.8</text><text x="744" y="1346">88.5</text>
<text x="558" y="1412">81.6</text><text x="601" y="1415.5">73.4</text><text x="647" y="1420">64.3</text><text x="694" y="1424.5">54.7</text><text x="744" y="1430">44.9</text>
</g>
<g fill="#999" font-size="5">
<text x="522.5" y="1351">200.0</text><text x="565" y="1350">200</text><text x="610" y="1346" fill="#d8e8ff">100.0</text><text x="703" y="1346" fill="#e8dcd8">100.0</text>
<text x="522.5" y="1411">100.0</text><text x="565" y="1411">100.0</text><text x="610" y="1410">100.0</text><text x="655" y="1410">100.0</text><text x="703" y="1409">100.0</text>
</g>
</g>
<defs>
<linearGradient id="invC1" x1="0" y1="0" x2="1" y2="1"><stop offset="0" stop-color="#4c4e52"/><stop offset="1" stop-color="#37393d"/></linearGradient>
<linearGradient id="invFace" x1="0" y1="0" x2="0" y2="1"><stop offset="0" stop-color="#3f4044"/><stop offset="1" stop-color="#303135"/></linearGradient>
<linearGradient id="invSide" x1="0" y1="0" x2="1" y2="0"><stop offset="0" stop-color="#323337"/><stop offset="1" stop-color="#2a2b2f"/></linearGradient>
<linearGradient id="invA" x1="0" y1="0" x2="1" y2="1"><stop offset="0" stop-color="#48494d"/><stop offset="1" stop-color="#35363a"/></linearGradient>
<g id="keypad">
<rect x="0" y="0" width="27" height="44" rx="4" fill="#111214" stroke="#55575c" stroke-width="1"/>
<rect x="3.5" y="4" width="20" height="6" fill="#3a0d0f"/>
<rect x="5" y="5.5" width="17" height="3" fill="#b82a30"/>
<g fill="#3a70b8"><rect x="3.5" y="16" width="5" height="3" rx="1"/><rect x="18.5" y="16" width="5" height="3" rx="1"/><rect x="3.5" y="27" width="5" height="3" rx="1"/><rect x="18.5" y="27" width="5" height="3" rx="1"/><rect x="11" y="21.5" width="5" height="3" rx="1"/></g>
<g fill="#cfc4ae"><rect x="11" y="15.5" width="5" height="4" rx="1"/><rect x="3.5" y="21.5" width="5" height="3" rx="1"/><rect x="18.5" y="21.5" width="5" height="3" rx="1"/><rect x="11" y="26.5" width="5" height="4" rx="1"/></g>
<rect x="3.5" y="34" width="5.5" height="4" rx="2" fill="#3aa050"/><rect x="11" y="34" width="5" height="4" rx="2" fill="#a03a3a"/><rect x="18" y="34" width="5.5" height="4" rx="2" fill="#c03a3a"/>
</g>
</defs>
<g id="inverters">
<!-- C tall -->
<path d="M360,1959 L443.5,1957.5 L443.5,2155 L360,2155 Z" fill="url(#invC1)"/>
<rect x="443.5" y="1957" width="6.5" height="198" fill="#6f7277"/>
<path d="M450,1956.5 L490,1956 L490,2155 L450,2155 Z" fill="url(#invFace)"/>
<path d="M490,1956 L506,1958 L510.5,1965 L510.5,2152 L490,2155 Z" fill="url(#invSide)"/>
<rect x="508" y="1952" width="2" height="10" fill="#6a6a6a"/>
<g fill="#1a1b1e"><rect x="495" y="1972" width="6" height="26"/><rect x="497" y="2025" width="4" height="20"/><rect x="497" y="2057" width="4" height="20"/><rect x="496" y="2108" width="8" height="40"/></g>
<rect x="458" y="2015.5" width="20" height="8" fill="#1c1d20"/>
<use href="#keypad" transform="translate(453,2024) scale(1.21,1.12)"/>
<path d="M463,2083 L467,2077 L471,2083 Z" fill="#d8d8d8"/><rect x="465" y="2079" width="14" height="4" fill="#b8b8b8"/>
<rect x="458" y="2086" width="25" height="2" fill="#8a8a8a"/>
<path d="M454.5,2131 L457.5,2125.5 L460.5,2131 Z" fill="#e8d020"/><path d="M479,2131 L482,2125.5 L485,2131 Z" fill="#e8d020"/>
<rect x="462" y="2127" width="16" height="3" fill="#777"/>
<rect x="458" y="2134" width="28" height="5" fill="#3a3b3e"/>
<!-- A left -->
<path d="M232,2006 L250,2004 L338,2005 L338,2159 L250,2159 L232,2156 Z" fill="url(#invA)"/>
<path d="M232,2006 L251,2004 L251,2159 L232,2156 Z" fill="#2d2e32"/>
<rect x="236" y="2030" width="3" height="14" fill="#1e1f22"/><rect x="236" y="2080" width="3" height="40" fill="#1e1f22"/>
<rect x="234" y="2004" width="14" height="4" fill="#1a1a1a"/>
<rect x="251" y="2006" width="52" height="45" fill="#4a4b50" opacity="0.55"/>
<rect x="302.5" y="2005" width="6" height="154" fill="#2f3034"/>
<use href="#keypad" transform="translate(311,2007) scale(0.96,0.99)"/>
<path d="M317,2063 L320,2058 L323,2063 Z" fill="#d8d8d8"/><rect x="321" y="2059.5" width="11" height="3.5" fill="#b0b0b0"/>
<rect x="314" y="2066" width="22" height="2" fill="#8a8a8a"/>
<path d="M311.5,2142 L314,2137 L316.5,2142 Z" fill="#e8d020"/><path d="M332,2142 L334.5,2137 L337,2142 Z" fill="#e8d020"/>
<rect x="318" y="2138.5" width="11" height="3" fill="#666"/>
<rect x="232" y="2150" width="18" height="8" fill="#1a1a1a"/>
<!-- right edge strip of A behind B -->
<rect x="337" y="2010" width="6" height="150" fill="#2a2b2e"/>
<!-- B middle -->
<path d="M340,2043 L348,2043 L348,2038 L368.5,2038 L368.5,2160 L340,2160 Z" fill="#3c3d41"/>
<rect x="340" y="2043" width="28.5" height="40" fill="#45464a" opacity="0.6"/>
<rect x="368.5" y="2036" width="3" height="124" fill="#26272a"/>
<path d="M371.5,2034.5 L404.5,2034.5 L404.5,2160 L371.5,2160 Z" fill="url(#invFace)"/>
<path d="M404.5,2034.5 L428,2036 L432,2040 L432,2157 L404.5,2160 Z" fill="#2e2f33"/>
<g fill="#1a1b1e"><rect x="412" y="2044" width="12" height="72"/></g>
<g fill="#34353a"><rect x="412" y="2048" width="12" height="2.2"/><rect x="412" y="2055" width="12" height="2.2"/><rect x="412" y="2062" width="12" height="2.2"/><rect x="412" y="2069" width="12" height="2.2"/><rect x="412" y="2076" width="12" height="2.2"/><rect x="412" y="2083" width="12" height="2.2"/><rect x="412" y="2090" width="12" height="2.2"/><rect x="412" y="2097" width="12" height="2.2"/><rect x="412" y="2104" width="12" height="2.2"/><rect x="412" y="2111" width="12" height="2.2"/></g>
<rect x="416.8" y="2120" width="7" height="29" fill="#d8d8d8"/>
<rect x="404.5" y="2034.5" width="24" height="4" fill="#232427"/>
<use href="#keypad" transform="translate(375.5,2036) scale(1.01,1.08)"/>
<path d="M381.5,2093 L384.5,2088 L387.5,2093 Z" fill="#d8d8d8"/><rect x="385.5" y="2089.5" width="12" height="3.5" fill="#a8a8a8"/>
<rect x="379" y="2096.5" width="22" height="2" fill="#7a7a7a"/>
<path d="M376,2143 L378.5,2138 L381,2143 Z" fill="#e8d020"/><path d="M397,2143 L399.5,2138 L402,2143 Z" fill="#e8d020"/>
<rect x="383" y="2139.5" width="11" height="3" fill="#666"/>
<rect x="372" y="2157" width="60" height="4" fill="#1f2023"/>
</g>
<g fill="#2f3034"><rect x="410" y="2050" width="12" height="2"/><rect x="410" y="2058" width="12" height="2"/><rect x="410" y="2066" width="12" height="2"/><rect x="410" y="2074" width="12" height="2"/><rect x="410" y="2082" width="12" height="2"/><rect x="410" y="2090" width="12" height="2"/><rect x="410" y="2098" width="12" height="2"/><rect x="410" y="2106" width="12" height="2"/><rect x="410" y="2114" width="12" height="2"/><rect x="410" y="2122" width="12" height="2"/></g>
<rect x="416" y="2120" width="5" height="26" fill="#d8d8d8"/>
<rect x="404" y="2035" width="24" height="4" fill="#1e1f22"/>
<use href="#keypad" transform="translate(375,2036) scale(1.04,1.08)"/>
<path d="M382,2094 L385,2089 L388,2094 Z" fill="#d8d8d8"/><rect x="386" y="2090.5" width="11" height="3.5" fill="#b0b0b0"/>
<rect x="379" y="2097" width="22" height="2" fill="#8a8a8a"/>
<path d="M376,2144 L378.5,2139 L381,2144 Z" fill="#e8d020"/><path d="M397,2144 L399.5,2139 L402,2144 Z" fill="#e8d020"/>
<rect x="383" y="2140.5" width="11" height="3" fill="#666"/>
<rect x="371" y="2156" width="57" height="5" fill="#1f2023"/>
</g>

</svg>
<!-- lines -->
<div class="ln" style="left:692px;top:662px;width:191px;height:1.2px;"></div>
<div class="ln" style="left:882px;top:662px;width:1.2px;height:1425px;"></div>
<div class="ln" style="left:692px;top:920px;width:191px;height:1.2px;"></div>
<div class="ln" style="left:822px;top:1428px;width:61px;height:1.2px;"></div>
<div class="ln" style="left:704px;top:2086px;width:179px;height:1.2px;"></div>
<div class="ln" style="left:188px;top:1122px;width:252px;height:1.2px;"></div>
<div class="ln" style="left:439px;top:1122px;width:1.2px;height:727px;"></div>
<div class="ln" style="left:177px;top:1474.5px;width:294px;height:1.2px;"></div>
<div class="ln" style="left:179px;top:1848.5px;width:261px;height:1.2px;"></div>

<!-- labels -->
<div class="t" id="ph1" style="left:716px;top:673.8px;font-size:31.5px;letter-spacing:0.7px;">手机<span style="letter-spacing:-1px">APP</span></div>
<div class="t" id="ph2" style="left:715px;top:712.8px;font-size:31.5px;letter-spacing:0.7px;">查看数据</div>
<div class="t" id="pc1" style="left:718.5px;top:933.5px;font-size:27px;letter-spacing:0.5px;">上位机软件</div>
<div class="t" id="pc2" style="left:732.5px;top:968px;font-size:27px;letter-spacing:0.5px;">查看数据</div>

<div class="t" id="s1a" style="left:173.5px;top:1087.5px;font-size:28px;"><span style="letter-spacing:-0.2px;-webkit-text-stroke:0">4~20mA/RS485</span>通讯</div>
<div class="t" id="s1b" style="left:189px;top:1139.7px;font-size:26px;letter-spacing:1.73px;">土壤温湿度传感器</div>
<div class="t" id="s2a" style="left:167px;top:1441px;font-size:28px;"><span style="letter-spacing:-0.2px;-webkit-text-stroke:0">4~20mA/RS485</span>通讯</div>
<div class="t" id="s2b" style="left:192px;top:1493.3px;font-size:26px;letter-spacing:1.73px;">土壤氮磷钾传感器</div>
<div class="t" id="s3a" style="left:167px;top:1814px;font-size:28px;"><span style="letter-spacing:-0.2px;-webkit-text-stroke:0">4~20mA/RS485</span>通讯</div>
<div class="t" id="s3b" style="left:202px;top:1870.5px;font-size:26px;letter-spacing:1.73px;">土壤PH传感器</div>

<!-- buttons -->
<div class="btn" style="top:1580px;"></div>
<div class="btn" style="top:1647px;"></div>
<div class="btn" style="top:1714px;"></div>
<div class="btn" style="top:1781px;"></div>
<div class="t" id="b1" style="left:584.1px;top:1593.9px;font-size:27.5px;letter-spacing:0.8px;">实时显示、记录</div>
<div class="t" id="b2" style="left:626.4px;top:1662.2px;font-size:27.5px;letter-spacing:0.8px;">越限报警</div>
<div class="t" id="b3" style="left:599.1px;top:1728.9px;font-size:27.5px;letter-spacing:0.8px;">历史数据查询</div>
<div class="t" id="b4" style="left:626.4px;top:1795.1px;font-size:27.5px;letter-spacing:0.8px;">数据导出</div>

<div class="t" id="r1" style="left:579.6px;top:1961.0px;font-size:27.5px;letter-spacing:0.8px;">空调</div>
<div class="t" id="r2" style="left:566.0px;top:2004.0px;font-size:27.5px;letter-spacing:0.8px;">电磁阀</div>
<div class="t" id="r3" style="left:566.2px;top:2050.0px;font-size:27.5px;letter-spacing:0.8px;">变频器</div>
<div class="t" id="r4" style="left:525.8px;top:2094.2px;font-size:27.5px;letter-spacing:0.8px;">其他执行机构</div>

<!-- vertical texts -->
<div class="vt" id="v1" style="left:885px;top:667px;font-size:33px;letter-spacing:2px;-webkit-text-stroke:0.5px #111;transform-origin:0 0;transform:translate(33px,0) rotate(90deg);">4G或WIFI</div>
<div class="vt" id="v2" style="left:895px;top:1230px;font-size:32px;writing-mode:vertical-rl;letter-spacing:2px;-webkit-text-stroke:0.3px #111;"><span style="font-size:34px;letter-spacing:0.3px">RS485/</span>以太网通讯</div>
<div class="vt" id="v3" style="left:895px;top:1868px;-webkit-text-stroke:0.3px #111;font-size:33px;writing-mode:vertical-rl;letter-spacing:2px;">控制信号</div>

</body>
</html>
